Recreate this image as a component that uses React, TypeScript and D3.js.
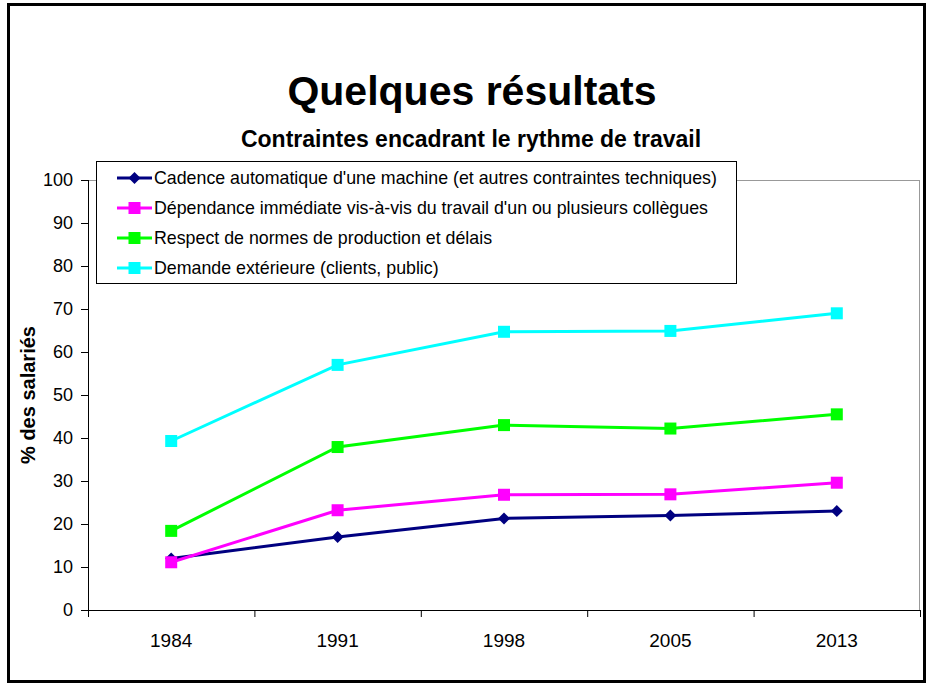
import React from 'react'
import * as d3 from 'd3'

const years = ['1984', '1991', '1998', '2005', '2013']
const cadence = [12, 17, 21.3, 22, 23]
const dependance = [11.1, 23.2, 26.8, 26.9, 29.6]
const normes = [18.4, 37.9, 43, 42.2, 45.5]
const demande = [39.3, 57, 64.7, 64.9, 69]
const yTicks = [0, 10, 20, 30, 40, 50, 60, 70, 80, 90, 100]

const series = [
  { name: "Cadence automatique d'une machine (et autres contraintes techniques)", values: cadence, color: '#000080', marker: 'diamond' },
  { name: "Dépendance immédiate vis-à-vis du travail d'un ou plusieurs collègues", values: dependance, color: '#ff00ff', marker: 'square' },
  { name: 'Respect de normes de production et délais', values: normes, color: '#00ff00', marker: 'square' },
  { name: 'Demande extérieure (clients, public)', values: demande, color: '#00ffff', marker: 'square' }
]

const W = 928, H = 684
const plot = { left: 88, right: 920, top: 180, bottom: 610 }
const font = 'Arial, "Liberation Sans", sans-serif'

function Marker({ x, y, color, type }) {
  if (type === 'diamond') {
    const r = 6
    return <path d={`M${x},${y - r}L${x + r},${y}L${x},${y + r}L${x - r},${y}Z`} fill={color} />
  }
  const s = 12
  return <rect x={x - s / 2} y={y - s / 2} width={s} height={s} fill={color} />
}

export default function App() {
  const x = d3.scaleBand().domain(years).range([plot.left, plot.right])
  const y = d3.scaleLinear().domain([0, 100]).range([plot.bottom, plot.top])
  const cx = (d) => x(d) + x.bandwidth() / 2

  const line = d3.line()

  return (
    <svg width={W} height={H} style={{ position: 'absolute', left: 0, top: 0, background: '#fff' }} fontFamily={font}>
      <rect x={8.5} y={4.5} width={916} height={677} fill="none" stroke="#000" strokeWidth={3} />

      <text x={472} y={105} textAnchor="middle" fontSize={41} fontWeight="bold">Quelques résultats</text>
      <text x={471} y={147} textAnchor="middle" fontSize={23} fontWeight="bold">Contraintes encadrant le rythme de travail</text>

      {/* plot area frame */}
      <line x1={plot.left} x2={plot.right} y1={plot.top + 0.5} y2={plot.top + 0.5} stroke="#999" />
      <line x1={plot.right - 0.5} x2={plot.right - 0.5} y1={plot.top} y2={plot.bottom} stroke="#999" />

      {/* y axis */}
      <line x1={plot.left + 0.5} x2={plot.left + 0.5} y1={plot.top} y2={plot.bottom} stroke="#000" />
      {yTicks.map(t => (
        <g key={t}>
          <line x1={plot.left - 7} x2={plot.left} y1={y(t) + 0.5} y2={y(t) + 0.5} stroke="#000" />
          <text x={plot.left - 15} y={y(t)} dy="0.35em" textAnchor="end" fontSize={18}>{t}</text>
        </g>
      ))}
      <text transform={`translate(35,${(plot.top + plot.bottom) / 2}) rotate(-90)`} textAnchor="middle" fontSize={20} fontWeight="bold">% des salariés</text>

      {/* x axis */}
      <line x1={plot.left} x2={plot.right} y1={plot.bottom + 0.5} y2={plot.bottom + 0.5} stroke="#000" />
      {[...years.map(d => x(d)), plot.right].map((b, i) => (
        <line key={i} x1={b + 0.5} x2={b + 0.5} y1={plot.bottom} y2={plot.bottom + 7} stroke="#000" />
      ))}
      {years.map(d => (
        <text key={d} x={cx(d)} y={647} textAnchor="middle" fontSize={19}>{d}</text>
      ))}

      {/* series */}
      {series.map(s => (
        <g key={s.name}>
          <path d={line(s.values.map((v, i) => [cx(years[i]), y(v)]))} fill="none" stroke={s.color} strokeWidth={3} />
          {s.values.map((v, i) => (
            <Marker key={i} x={cx(years[i])} y={y(v)} color={s.color} type={s.marker} />
          ))}
        </g>
      ))}

      {/* legend */}
      <rect x={96.5} y={161.5} width={640} height={122} fill="#fff" stroke="#000" />
      {series.map((s, i) => {
        const ly = 178 + i * 30
        return (
          <g key={s.name}>
            <line x1={117} x2={152} y1={ly} y2={ly} stroke={s.color} strokeWidth={3} />
            <Marker x={134.5} y={ly} color={s.color} type={s.marker} />
            <text x={154} y={ly} dy="0.36em" fontSize={17.8}>{s.name}</text>
          </g>
        )
      })}
    </svg>
  )
}
